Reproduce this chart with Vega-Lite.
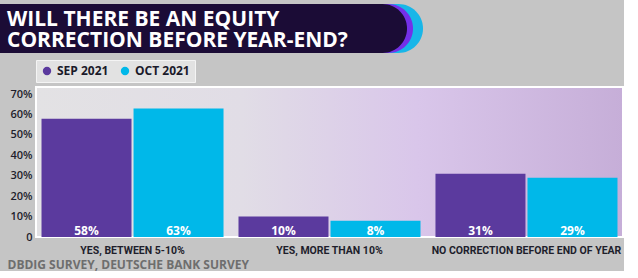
{
  "$schema": "https://vega.github.io/schema/vega-lite/v6.json",
  "background": "#c5c5c5",
  "padding": {"left": 0, "top": 4, "right": 0, "bottom": 0},
  "spacing": 5,
  "resolve": {"legend": {"color": "independent"}, "scale": {"color": "independent", "x": "independent", "y": "independent"}},
  "vconcat": [
    {
      "width": 371,
      "height": 49,
      "view": {"fill": null, "stroke": null},
      "data": {"values": [
        {"line": 1, "text": "WILL THERE BE AN EQUITY"},
        {"line": 2, "text": "CORRECTION BEFORE YEAR-END?"}
      ]},
      "encoding": {
        "x": {"datum": -36, "type": "quantitative", "scale": {"domain": [0, 371], "nice": false, "zero": false}, "axis": null}
      },
      "layer": [
        {
          "transform": [{"filter": "datum.line == 1"}],
          "mark": {"type": "rect", "color": "#18b6e8", "cornerRadiusTopRight": 24.5, "cornerRadiusBottomRight": 24.5},
          "encoding": {"x2": {"datum": 387}}
        },
        {
          "transform": [{"filter": "datum.line == 1"}],
          "mark": {"type": "rect", "color": "#7430e8", "cornerRadiusTopRight": 24.5, "cornerRadiusBottomRight": 24.5},
          "encoding": {"x2": {"datum": 377}}
        },
        {
          "transform": [{"filter": "datum.line == 1"}],
          "mark": {"type": "rect", "color": "#1b0c36", "cornerRadiusTopRight": 24.5, "cornerRadiusBottomRight": 24.5},
          "encoding": {"x2": {"datum": 371}}
        },
        {
          "mark": {"type": "text", "align": "left", "baseline": "alphabetic", "font": "Open Sans", "fontWeight": "bold", "fontSize": 21, "color": "#ffffff", "dx": 7, "dy": 8},
          "encoding": {
            "y": {"field": "line", "type": "ordinal", "scale": {"type": "point", "padding": 0.667}, "axis": null},
            "text": {"field": "text"}
          }
        }
      ]
    },
    {
      "width": 587,
      "height": 150,
      "view": {
        "fill": {"gradient": "linear", "x1": 0, "x2": 1, "y1": 0, "y2": 0, "stops": [
          {"offset": 0, "color": "#e3e2e4"},
          {"offset": 0.35, "color": "#e1dde6"},
          {"offset": 0.65, "color": "#d9c6ea"},
          {"offset": 1, "color": "#c6aed8"}
        ]},
        "stroke": "#ffffff",
        "strokeWidth": 2
      },
      "data": {"values": [
        {"answer": "YES, BETWEEN 5-10%", "month": "SEP 2021", "value": 58},
        {"answer": "YES, BETWEEN 5-10%", "month": "OCT 2021", "value": 63},
        {"answer": "YES, MORE THAN 10%", "month": "SEP 2021", "value": 10},
        {"answer": "YES, MORE THAN 10%", "month": "OCT 2021", "value": 8},
        {"answer": "NO CORRECTION BEFORE END OF YEAR", "month": "SEP 2021", "value": 31},
        {"answer": "NO CORRECTION BEFORE END OF YEAR", "month": "OCT 2021", "value": 29}
      ]},
      "transform": [{"calculate": "datum.value + '%'", "as": "label"}],
      "encoding": {
        "x": {
          "field": "answer", "type": "nominal", "sort": null,
          "scale": {"paddingInner": 0.076, "paddingOuter": 0.028},
          "title": "DBDIG SURVEY, DEUTSCHE BANK SURVEY",
          "axis": {
            "labelAngle": 0, "ticks": false, "domain": false, "labelPadding": 8, "labelLimit": 0,
            "labelFont": "Roboto", "labelFontWeight": "bold", "labelFontSize": 10.5, "labelColor": "#1e1e2c",
            "titleFont": "Open Sans", "titleFontWeight": "bold", "titleFontSize": 12, "titleColor": "#6e6e6e",
            "titleAnchor": "start", "titleAlign": "left", "titleX": -29, "titleY": 31, "titleBaseline": "alphabetic"
          }
        },
        "xOffset": {"field": "month", "type": "nominal", "sort": null, "scale": {"paddingInner": 0.022}}
      },
      "layer": [
        {
          "mark": {"type": "bar"},
          "encoding": {
            "y": {
              "field": "value", "type": "quantitative",
              "scale": {"domain": [0, 73.5], "nice": false},
              "axis": {
                "values": [0, 10, 20, 30, 40, 50, 60, 70],
                "labelExpr": "datum.value == 0 ? '0' : datum.value + '%'",
                "labelOverlap": false, "minExtent": 32,
                "grid": false, "ticks": false, "domain": false, "labelPadding": 4,
                "labelFont": "Open Sans", "labelFontWeight": 600, "labelFontSize": 11, "labelColor": "#1e1e2c",
                "title": null
              }
            },
            "color": {
              "field": "month", "type": "nominal", "sort": null,
              "scale": {"range": ["#5b3a9e", "#00b8e9"]},
              "legend": {
                "orient": "top", "direction": "horizontal", "title": null, "offset": 5,
                "fillColor": "#e2e2e2", "strokeColor": "#f4f4f4", "padding": 5,
                "symbolType": "circle", "symbolSize": 70, "symbolOpacity": 1,
                "labelFont": "Open Sans", "labelFontWeight": "bold", "labelFontSize": 12, "labelColor": "#1a1a2a",
                "labelOffset": 4, "columnPadding": 10
              }
            }
          }
        },
        {
          "mark": {"type": "text", "baseline": "alphabetic", "dy": -2.5, "font": "Open Sans", "fontWeight": "bold", "fontSize": 12, "color": "#ffffff"},
          "encoding": {
            "y": {
              "datum": 0, "type": "quantitative",
              "scale": {"domain": [0, 73.5], "nice": false},
              "axis": {
                "values": [0, 10, 20, 30, 40, 50, 60, 70],
                "labelExpr": "datum.value == 0 ? '0' : datum.value + '%'",
                "labelOverlap": false, "minExtent": 32,
                "grid": false, "ticks": false, "domain": false, "labelPadding": 4,
                "labelFont": "Open Sans", "labelFontWeight": 600, "labelFontSize": 11, "labelColor": "#1e1e2c",
                "title": null
              }
            },
            "text": {"field": "label"}
          }
        }
      ]
    }
  ]
}
